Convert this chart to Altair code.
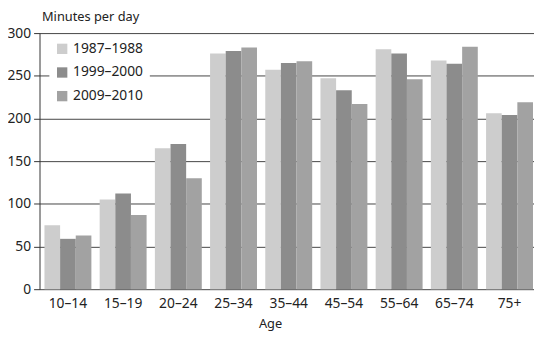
import altair as alt
import pandas as pd

ages = ["10–14", "15–19", "20–24", "25–34", "35–44", "45–54", "55–64", "65–74", "75+"]
periods = ["1987–1988", "1999–2000", "2009–2010"]
v1987 = [75, 105, 165, 276, 257, 247, 281, 268, 206]
v1999 = [59, 112, 170, 279, 265, 233, 276, 264, 204]
v2009 = [63, 87, 130, 283, 267, 217, 246, 284, 219]
colors = ["#cdcdcd", "#8c8c8c", "#a2a2a2"]

rows = []
for i, a in enumerate(ages):
    for p, vals in zip(periods, [v1987, v1999, v2009]):
        rows.append({"age": a, "period": p, "minutes": vals[i]})
df = pd.DataFrame(rows)

FONT = "Noto Sans"

chart = alt.Chart(df).mark_bar().encode(
    x=alt.X("age:N", sort=ages,
            scale=alt.Scale(paddingInner=0.15, paddingOuter=0.054, align=0.83),
            axis=alt.Axis(title="Age", labelAngle=0, ticks=False, domain=False,
                          labelFontSize=14, labelPadding=8, titleFontSize=13,
                          titleFontWeight="normal", titleX=234, titleY=39,
                          titleBaseline="alphabetic",
                          labelColor="#222", titleColor="#222", labelFont=FONT, titleFont=FONT)),
    xOffset=alt.XOffset("period:N", sort=periods, scale=alt.Scale(paddingInner=0)),
    y=alt.Y("minutes:Q", scale=alt.Scale(domain=[0, 300], nice=False),
            axis=alt.Axis(title="Minutes per day", values=[0, 50, 100, 150, 200, 250, 300],
                          titleAngle=0, titleAlign="left", titleX=2, titleY=-10,
                          titleBaseline="bottom",
                          titleFontSize=13, titleFontWeight="normal", titleFont=FONT,
                          labelFontSize=14, labelFont=FONT, labelPadding=3,
                          tickSize=6, tickColor="#333", domainColor="#333",
                          gridColor="#444", gridWidth=1, gridOpacity=1,
                          labelColor="#222", titleColor="#222")),
    color=alt.Color("period:N", sort=periods,
                    scale=alt.Scale(domain=periods, range=colors),
                    legend=alt.Legend(title=None, orient="none", legendX=10, legendY=3,
                                      symbolType="square", symbolSize=110,
                                      symbolStrokeWidth=0, labelFontSize=14,
                                      labelFont=FONT, labelColor="#222",
                                      rowPadding=10, padding=6, fillColor="white")),
).properties(
    width=502, height=260,
    padding={"left": 32, "top": 23, "right": 0, "bottom": 42},
    autosize=alt.AutoSizeParams(type="none"),
).configure_view(stroke=None).configure_axisX(domain=True, domainColor="#111", domainWidth=2)

chart.save("out.html", embed_options={"renderer": "svg", "actions": False})
